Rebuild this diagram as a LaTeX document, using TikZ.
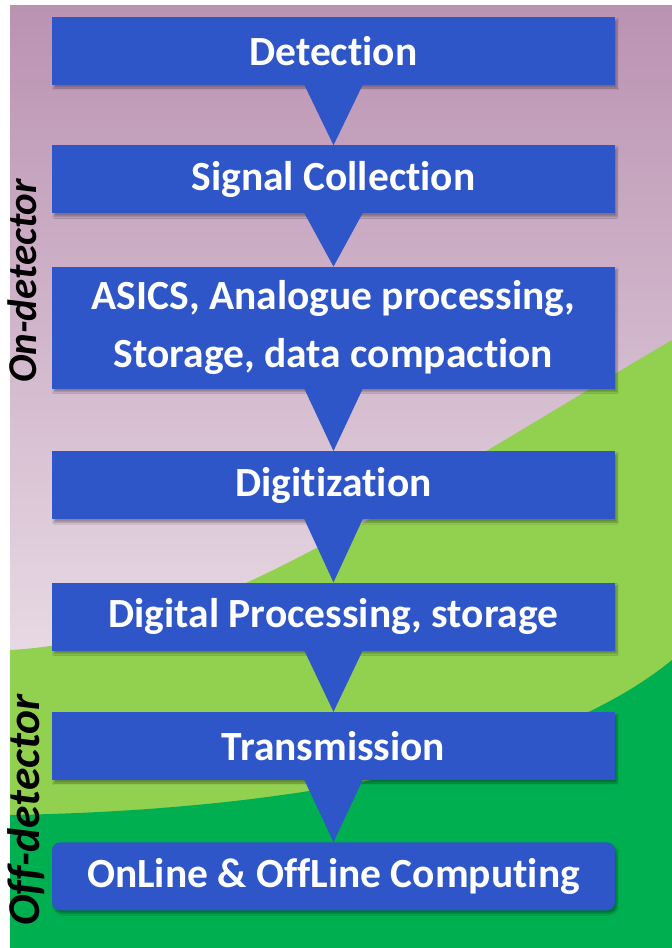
\documentclass[tikz,border=0pt]{standalone}
\usepackage{fontspec}
\setmainfont{Carlito}[Ligatures=NoCommon]
\usetikzlibrary{positioning, calc, shadows.blur}

\definecolor{boxblue}{RGB}{46,86,200}
\definecolor{mauvetop}{RGB}{186,146,178}
\definecolor{mauvelow}{RGB}{232,218,228}
\definecolor{leafgreen}{RGB}{146,208,80}
\definecolor{deepgreen}{RGB}{0,176,80}

\begin{document}
\begin{tikzpicture}[
    x=1pt, y=-1pt,
    stage/.style  = {fill=boxblue, text=white, inner sep=0pt, align=center,
                     font=\fontsize{41.5}{48}\selectfont\bfseries,
                     minimum width=563pt, minimum height=68pt,
                     blur shadow={shadow xshift=2pt, shadow yshift=-3pt,
                                  shadow blur steps=6, shadow opacity=35}},
    funnel/.style = {fill=boxblue},
    side/.style   = {rotate=90, text=black,
                     font=\fontsize{41}{44}\selectfont\bfseries\itshape},
]
\useasboundingbox (0,0) rectangle (672,948);

%% Background bands
\shade[top color=mauvetop, bottom color=mauvelow] (10,5) rectangle (672,660);
\fill[mauvelow] (10,660) rectangle (672,948);
\fill[leafgreen] (672,340) .. controls (400,500) and (200,640) .. (10,650)
    -- (10,948) -- (672,948) -- cycle;
\fill[deepgreen] (10,815) .. controls (300,810) and (550,760) .. (672,660)
    -- (672,948) -- (10,948) -- cycle;

%% Processing chain
\node[stage] (det) at (333.5,51) {Detection};
\node[stage, below=60pt of det] (sig) {Signal Collection};
\node[stage, below=53pt of sig, minimum height=122pt,
      font=\fontsize{41.5}{58}\selectfont\bfseries] (asic)
    {ASICS, Analogue processing,\\Storage, data compaction};
\node[stage, below=62pt of asic]  (dig)   {Digitization};
\node[stage, below=63pt of dig]   (proc)  {Digital Processing, storage};
\node[stage, below=61pt of proc]  (trans) {Transmission};
\node[stage, below=62pt of trans, rounded corners=8pt] (comp)
    {OnLine \& OffLine Computing};

%% Funnels between the stages
\foreach \a/\b in {det/sig, sig/asic, asic/dig, dig/proc, proc/trans, trans/comp}
    \fill[funnel] ($(\a.south)+(-30pt,2pt)$) -- ($(\a.south)+(30pt,2pt)$)
        -- (\b.north) -- cycle;

%% Side labels
\node[side] (on)  at (22,281) {On-detector};
\node[side, font=\fontsize{45.5}{48}\selectfont\bfseries\itshape] (off)
    at (26,810) {Off-detector};

\end{tikzpicture}
\end{document}
